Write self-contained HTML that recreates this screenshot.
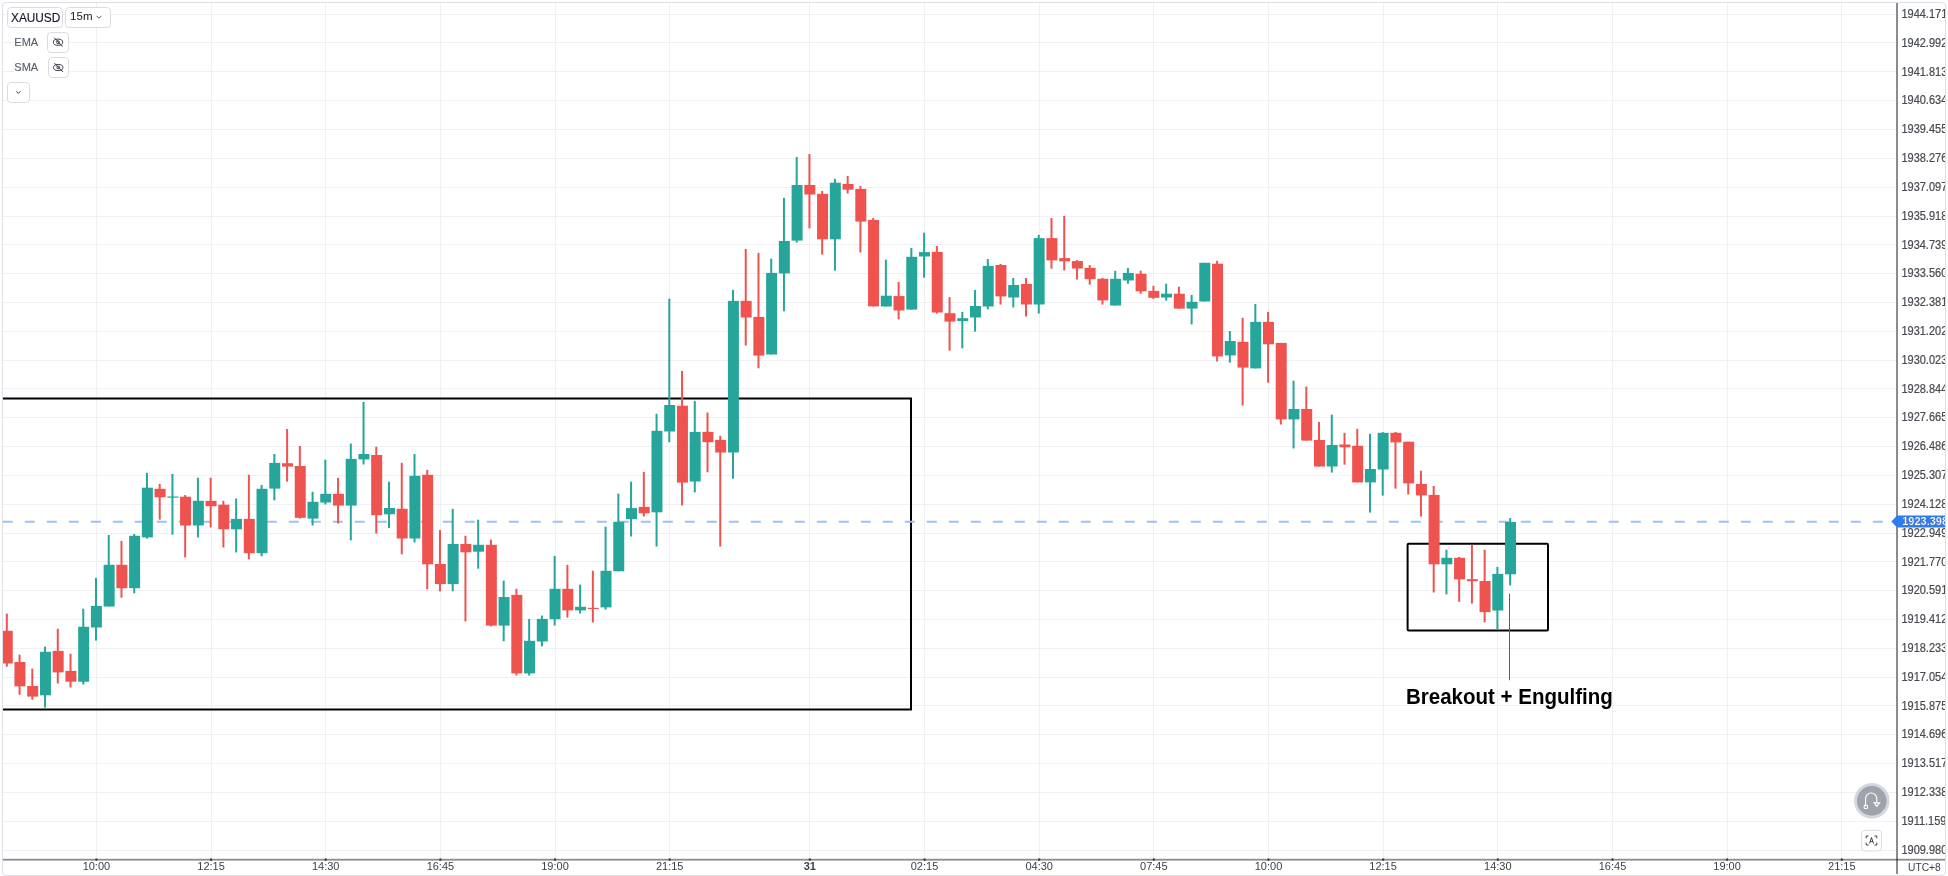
<!DOCTYPE html>
<html><head><meta charset="utf-8"><style>
html,body{margin:0;padding:0;background:#fff;}
body{width:1948px;height:876px;position:relative;overflow:hidden;font-family:"Liberation Sans",sans-serif;}
#root{position:absolute;left:0;top:0;width:1948px;height:876px;will-change:transform;}
.abs{position:absolute;left:0;top:0;}
#frame{position:absolute;left:2px;top:2px;width:1942px;height:872px;border:1px solid #dcdfe6;border-radius:4px;}
#clip{position:absolute;left:3px;top:3px;width:1942px;height:872px;overflow:hidden;border-radius:3px;}
#clip > svg{position:absolute;left:-3px;top:-3px;}
#pclip{position:absolute;left:1898px;top:0;width:47.4px;height:874px;overflow:hidden;}
.pl{position:absolute;left:3.4px;font-size:11px;line-height:17px;color:#474a50;white-space:nowrap;-webkit-text-stroke:0.2px #474a50;transform:scaleY(1.09);transform-origin:0 50%;}
.tl{position:absolute;top:857.8px;width:60px;text-align:center;font-size:11px;line-height:17px;color:#3d3f44;transform:scaleY(1.05);}
.tl.b{font-weight:bold;}
.btn{position:absolute;box-sizing:border-box;border:1px solid #d9dce3;border-radius:4px;background:#fff;}
.ind{position:absolute;font-size:11px;color:#5a5f6d;line-height:13px;-webkit-text-stroke:0.15px #5a5f6d;}
svg.ov{position:absolute;left:0;top:0;}
</style></head><body><div id="root">
<div id="frame"></div>
<div id="clip">
<svg width="1948" height="876">
<rect x="3" y="14" width="1893" height="1" fill="#eef0f4"/>
<rect x="3" y="42" width="1893" height="1" fill="#eef0f4"/>
<rect x="3" y="71" width="1893" height="1" fill="#eef0f4"/>
<rect x="3" y="100" width="1893" height="1" fill="#eef0f4"/>
<rect x="3" y="129" width="1893" height="1" fill="#eef0f4"/>
<rect x="3" y="158" width="1893" height="1" fill="#eef0f4"/>
<rect x="3" y="187" width="1893" height="1" fill="#eef0f4"/>
<rect x="3" y="216" width="1893" height="1" fill="#eef0f4"/>
<rect x="3" y="244" width="1893" height="1" fill="#eef0f4"/>
<rect x="3" y="273" width="1893" height="1" fill="#eef0f4"/>
<rect x="3" y="302" width="1893" height="1" fill="#eef0f4"/>
<rect x="3" y="331" width="1893" height="1" fill="#eef0f4"/>
<rect x="3" y="360" width="1893" height="1" fill="#eef0f4"/>
<rect x="3" y="388" width="1893" height="1" fill="#eef0f4"/>
<rect x="3" y="417" width="1893" height="1" fill="#eef0f4"/>
<rect x="3" y="446" width="1893" height="1" fill="#eef0f4"/>
<rect x="3" y="475" width="1893" height="1" fill="#eef0f4"/>
<rect x="3" y="504" width="1893" height="1" fill="#eef0f4"/>
<rect x="3" y="533" width="1893" height="1" fill="#eef0f4"/>
<rect x="3" y="561" width="1893" height="1" fill="#eef0f4"/>
<rect x="3" y="590" width="1893" height="1" fill="#eef0f4"/>
<rect x="3" y="619" width="1893" height="1" fill="#eef0f4"/>
<rect x="3" y="648" width="1893" height="1" fill="#eef0f4"/>
<rect x="3" y="677" width="1893" height="1" fill="#eef0f4"/>
<rect x="3" y="705" width="1893" height="1" fill="#eef0f4"/>
<rect x="3" y="734" width="1893" height="1" fill="#eef0f4"/>
<rect x="3" y="763" width="1893" height="1" fill="#eef0f4"/>
<rect x="3" y="792" width="1893" height="1" fill="#eef0f4"/>
<rect x="3" y="821" width="1893" height="1" fill="#eef0f4"/>
<rect x="3" y="850" width="1893" height="1" fill="#eef0f4"/>
<rect x="96" y="3" width="1" height="856" fill="#eef0f4"/>
<rect x="211" y="3" width="1" height="856" fill="#eef0f4"/>
<rect x="325" y="3" width="1" height="856" fill="#eef0f4"/>
<rect x="440" y="3" width="1" height="856" fill="#eef0f4"/>
<rect x="555" y="3" width="1" height="856" fill="#eef0f4"/>
<rect x="669" y="3" width="1" height="856" fill="#eef0f4"/>
<rect x="809" y="3" width="1" height="856" fill="#eef0f4"/>
<rect x="924" y="3" width="1" height="856" fill="#eef0f4"/>
<rect x="1039" y="3" width="1" height="856" fill="#eef0f4"/>
<rect x="1153" y="3" width="1" height="856" fill="#eef0f4"/>
<rect x="1268" y="3" width="1" height="856" fill="#eef0f4"/>
<rect x="1383" y="3" width="1" height="856" fill="#eef0f4"/>
<rect x="1497" y="3" width="1" height="856" fill="#eef0f4"/>
<rect x="1612" y="3" width="1" height="856" fill="#eef0f4"/>
<rect x="1727" y="3" width="1" height="856" fill="#eef0f4"/>
<rect x="1841" y="3" width="1" height="856" fill="#eef0f4"/>
<rect x="2" y="398.5" width="909" height="311" fill="none" stroke="#000" stroke-width="2"/>
<rect x="1407.6" y="543.8" width="140.4" height="86.6" rx="1" fill="none" stroke="#000" stroke-width="2"/>
<line x1="2.8" y1="521.7" x2="1896" y2="521.7" stroke="#9ec0f6" stroke-width="2" stroke-dasharray="10 12"/>
<rect x="5.82" y="613.60" width="2.0" height="53.00" fill="#ef5350"/>
<rect x="1.72" y="630.80" width="11.0" height="32.70" fill="#ef5350"/>
<rect x="18.56" y="654.70" width="2.0" height="40.10" fill="#ef5350"/>
<rect x="14.46" y="662.00" width="11.0" height="24.30" fill="#ef5350"/>
<rect x="31.30" y="668.60" width="2.0" height="31.10" fill="#ef5350"/>
<rect x="27.20" y="686.00" width="11.0" height="10.60" fill="#ef5350"/>
<rect x="44.04" y="646.60" width="2.0" height="61.00" fill="#26a69a"/>
<rect x="39.94" y="651.80" width="11.0" height="43.50" fill="#26a69a"/>
<rect x="56.78" y="628.70" width="2.0" height="54.80" fill="#ef5350"/>
<rect x="52.68" y="650.90" width="11.0" height="21.50" fill="#ef5350"/>
<rect x="69.52" y="653.70" width="2.0" height="33.80" fill="#ef5350"/>
<rect x="65.42" y="670.90" width="11.0" height="10.80" fill="#ef5350"/>
<rect x="82.26" y="608.70" width="2.0" height="75.80" fill="#26a69a"/>
<rect x="78.16" y="626.80" width="11.0" height="54.90" fill="#26a69a"/>
<rect x="95.00" y="577.90" width="2.0" height="62.70" fill="#26a69a"/>
<rect x="90.90" y="605.90" width="11.0" height="21.60" fill="#26a69a"/>
<rect x="107.74" y="535.00" width="2.0" height="71.50" fill="#26a69a"/>
<rect x="103.64" y="564.80" width="11.0" height="41.70" fill="#26a69a"/>
<rect x="120.48" y="540.90" width="2.0" height="56.80" fill="#ef5350"/>
<rect x="116.38" y="564.80" width="11.0" height="23.40" fill="#ef5350"/>
<rect x="133.22" y="534.00" width="2.0" height="59.30" fill="#26a69a"/>
<rect x="129.12" y="535.80" width="11.0" height="52.40" fill="#26a69a"/>
<rect x="145.96" y="472.80" width="2.0" height="65.80" fill="#26a69a"/>
<rect x="141.86" y="487.70" width="11.0" height="49.70" fill="#26a69a"/>
<rect x="158.70" y="483.90" width="2.0" height="35.70" fill="#ef5350"/>
<rect x="154.60" y="488.80" width="11.0" height="8.50" fill="#ef5350"/>
<rect x="171.44" y="473.90" width="2.0" height="60.80" fill="#26a69a"/>
<rect x="167.34" y="496.50" width="11.0" height="1.20" fill="#26a69a"/>
<rect x="184.18" y="495.10" width="2.0" height="62.30" fill="#ef5350"/>
<rect x="180.08" y="496.70" width="11.0" height="28.80" fill="#ef5350"/>
<rect x="196.92" y="477.70" width="2.0" height="59.80" fill="#26a69a"/>
<rect x="192.82" y="500.80" width="11.0" height="24.70" fill="#26a69a"/>
<rect x="209.66" y="477.70" width="2.0" height="49.80" fill="#ef5350"/>
<rect x="205.56" y="500.90" width="11.0" height="5.30" fill="#ef5350"/>
<rect x="222.40" y="500.80" width="2.0" height="46.70" fill="#ef5350"/>
<rect x="218.30" y="504.70" width="11.0" height="24.60" fill="#ef5350"/>
<rect x="235.14" y="498.50" width="2.0" height="53.90" fill="#26a69a"/>
<rect x="231.04" y="518.90" width="11.0" height="10.40" fill="#26a69a"/>
<rect x="247.88" y="474.70" width="2.0" height="84.70" fill="#ef5350"/>
<rect x="243.78" y="518.90" width="11.0" height="34.30" fill="#ef5350"/>
<rect x="260.62" y="484.90" width="2.0" height="71.40" fill="#26a69a"/>
<rect x="256.52" y="488.80" width="11.0" height="64.40" fill="#26a69a"/>
<rect x="273.36" y="454.00" width="2.0" height="46.40" fill="#26a69a"/>
<rect x="269.26" y="462.90" width="11.0" height="25.70" fill="#26a69a"/>
<rect x="286.10" y="429.00" width="2.0" height="52.70" fill="#ef5350"/>
<rect x="282.00" y="463.20" width="11.0" height="3.40" fill="#ef5350"/>
<rect x="298.84" y="446.00" width="2.0" height="72.60" fill="#ef5350"/>
<rect x="294.74" y="466.00" width="11.0" height="51.80" fill="#ef5350"/>
<rect x="311.58" y="491.80" width="2.0" height="33.70" fill="#26a69a"/>
<rect x="307.48" y="501.80" width="11.0" height="16.80" fill="#26a69a"/>
<rect x="324.32" y="459.80" width="2.0" height="44.70" fill="#26a69a"/>
<rect x="320.22" y="493.80" width="11.0" height="8.70" fill="#26a69a"/>
<rect x="337.06" y="477.80" width="2.0" height="45.70" fill="#ef5350"/>
<rect x="332.96" y="493.80" width="11.0" height="11.80" fill="#ef5350"/>
<rect x="349.80" y="443.60" width="2.0" height="96.80" fill="#26a69a"/>
<rect x="345.70" y="458.90" width="11.0" height="46.70" fill="#26a69a"/>
<rect x="362.54" y="402.00" width="2.0" height="62.50" fill="#26a69a"/>
<rect x="358.44" y="454.00" width="11.0" height="5.40" fill="#26a69a"/>
<rect x="375.28" y="446.70" width="2.0" height="86.90" fill="#ef5350"/>
<rect x="371.18" y="455.00" width="11.0" height="60.20" fill="#ef5350"/>
<rect x="388.02" y="481.70" width="2.0" height="46.40" fill="#26a69a"/>
<rect x="383.92" y="508.00" width="11.0" height="6.30" fill="#26a69a"/>
<rect x="400.76" y="462.90" width="2.0" height="91.40" fill="#ef5350"/>
<rect x="396.66" y="508.80" width="11.0" height="29.70" fill="#ef5350"/>
<rect x="413.50" y="454.00" width="2.0" height="88.50" fill="#26a69a"/>
<rect x="409.40" y="475.80" width="11.0" height="62.70" fill="#26a69a"/>
<rect x="426.24" y="469.80" width="2.0" height="119.50" fill="#ef5350"/>
<rect x="422.14" y="474.80" width="11.0" height="89.50" fill="#ef5350"/>
<rect x="438.98" y="530.10" width="2.0" height="61.20" fill="#ef5350"/>
<rect x="434.88" y="564.00" width="11.0" height="20.10" fill="#ef5350"/>
<rect x="451.72" y="508.90" width="2.0" height="82.40" fill="#26a69a"/>
<rect x="447.62" y="544.00" width="11.0" height="40.10" fill="#26a69a"/>
<rect x="464.46" y="535.80" width="2.0" height="85.50" fill="#ef5350"/>
<rect x="460.36" y="544.00" width="11.0" height="8.30" fill="#ef5350"/>
<rect x="477.20" y="519.70" width="2.0" height="49.00" fill="#26a69a"/>
<rect x="473.10" y="544.80" width="11.0" height="6.90" fill="#26a69a"/>
<rect x="489.94" y="539.70" width="2.0" height="86.70" fill="#ef5350"/>
<rect x="485.84" y="544.80" width="11.0" height="80.80" fill="#ef5350"/>
<rect x="502.68" y="580.60" width="2.0" height="60.60" fill="#26a69a"/>
<rect x="498.58" y="597.00" width="11.0" height="28.60" fill="#26a69a"/>
<rect x="515.42" y="588.80" width="2.0" height="86.70" fill="#ef5350"/>
<rect x="511.32" y="594.90" width="11.0" height="78.50" fill="#ef5350"/>
<rect x="528.16" y="618.90" width="2.0" height="56.60" fill="#26a69a"/>
<rect x="524.06" y="640.80" width="11.0" height="32.60" fill="#26a69a"/>
<rect x="540.90" y="615.50" width="2.0" height="30.90" fill="#26a69a"/>
<rect x="536.80" y="618.90" width="11.0" height="22.60" fill="#26a69a"/>
<rect x="553.64" y="555.90" width="2.0" height="69.60" fill="#26a69a"/>
<rect x="549.54" y="588.80" width="11.0" height="30.40" fill="#26a69a"/>
<rect x="566.38" y="564.80" width="2.0" height="52.80" fill="#ef5350"/>
<rect x="562.28" y="588.80" width="11.0" height="21.60" fill="#ef5350"/>
<rect x="579.12" y="584.70" width="2.0" height="28.90" fill="#26a69a"/>
<rect x="575.02" y="606.80" width="11.0" height="3.60" fill="#26a69a"/>
<rect x="591.86" y="570.80" width="2.0" height="51.70" fill="#ef5350"/>
<rect x="587.76" y="607.80" width="11.0" height="1.20" fill="#ef5350"/>
<rect x="604.60" y="526.60" width="2.0" height="83.00" fill="#26a69a"/>
<rect x="600.50" y="570.80" width="11.0" height="36.60" fill="#26a69a"/>
<rect x="617.34" y="493.60" width="2.0" height="77.70" fill="#26a69a"/>
<rect x="613.24" y="521.80" width="11.0" height="49.50" fill="#26a69a"/>
<rect x="630.08" y="481.70" width="2.0" height="54.80" fill="#26a69a"/>
<rect x="625.98" y="508.10" width="11.0" height="11.10" fill="#26a69a"/>
<rect x="642.82" y="471.90" width="2.0" height="44.60" fill="#ef5350"/>
<rect x="638.72" y="506.90" width="11.0" height="6.40" fill="#ef5350"/>
<rect x="655.56" y="413.70" width="2.0" height="132.80" fill="#26a69a"/>
<rect x="651.46" y="430.80" width="11.0" height="81.50" fill="#26a69a"/>
<rect x="668.30" y="298.60" width="2.0" height="143.60" fill="#26a69a"/>
<rect x="664.20" y="405.00" width="11.0" height="26.50" fill="#26a69a"/>
<rect x="681.04" y="371.00" width="2.0" height="134.40" fill="#ef5350"/>
<rect x="676.94" y="405.70" width="11.0" height="76.90" fill="#ef5350"/>
<rect x="693.78" y="401.10" width="2.0" height="91.30" fill="#26a69a"/>
<rect x="689.68" y="431.90" width="11.0" height="49.60" fill="#26a69a"/>
<rect x="706.52" y="412.50" width="2.0" height="59.80" fill="#ef5350"/>
<rect x="702.42" y="431.90" width="11.0" height="10.30" fill="#ef5350"/>
<rect x="719.26" y="435.80" width="2.0" height="110.70" fill="#ef5350"/>
<rect x="715.16" y="439.90" width="11.0" height="12.60" fill="#ef5350"/>
<rect x="732.00" y="289.90" width="2.0" height="188.80" fill="#26a69a"/>
<rect x="727.90" y="300.90" width="11.0" height="151.60" fill="#26a69a"/>
<rect x="744.74" y="248.90" width="2.0" height="96.60" fill="#ef5350"/>
<rect x="740.64" y="300.90" width="11.0" height="16.60" fill="#ef5350"/>
<rect x="757.48" y="252.90" width="2.0" height="115.40" fill="#ef5350"/>
<rect x="753.38" y="316.90" width="11.0" height="38.70" fill="#ef5350"/>
<rect x="770.22" y="258.60" width="2.0" height="95.90" fill="#26a69a"/>
<rect x="766.12" y="272.90" width="11.0" height="81.60" fill="#26a69a"/>
<rect x="782.96" y="197.90" width="2.0" height="113.30" fill="#26a69a"/>
<rect x="778.86" y="241.00" width="11.0" height="32.40" fill="#26a69a"/>
<rect x="795.70" y="157.00" width="2.0" height="85.60" fill="#26a69a"/>
<rect x="791.60" y="185.00" width="11.0" height="55.60" fill="#26a69a"/>
<rect x="808.44" y="154.00" width="2.0" height="74.40" fill="#ef5350"/>
<rect x="804.34" y="185.00" width="11.0" height="9.50" fill="#ef5350"/>
<rect x="821.18" y="191.00" width="2.0" height="63.60" fill="#ef5350"/>
<rect x="817.08" y="193.80" width="11.0" height="45.50" fill="#ef5350"/>
<rect x="833.92" y="178.80" width="2.0" height="91.90" fill="#26a69a"/>
<rect x="829.82" y="182.70" width="11.0" height="56.60" fill="#26a69a"/>
<rect x="846.66" y="176.00" width="2.0" height="17.50" fill="#ef5350"/>
<rect x="842.56" y="183.90" width="11.0" height="5.80" fill="#ef5350"/>
<rect x="859.40" y="186.00" width="2.0" height="66.50" fill="#ef5350"/>
<rect x="855.30" y="188.90" width="11.0" height="32.70" fill="#ef5350"/>
<rect x="872.14" y="218.10" width="2.0" height="88.30" fill="#ef5350"/>
<rect x="868.04" y="219.90" width="11.0" height="86.50" fill="#ef5350"/>
<rect x="884.88" y="259.70" width="2.0" height="46.80" fill="#26a69a"/>
<rect x="880.78" y="295.70" width="11.0" height="10.80" fill="#26a69a"/>
<rect x="897.62" y="282.00" width="2.0" height="37.40" fill="#ef5350"/>
<rect x="893.52" y="296.10" width="11.0" height="14.40" fill="#ef5350"/>
<rect x="910.36" y="247.90" width="2.0" height="61.70" fill="#26a69a"/>
<rect x="906.26" y="256.80" width="11.0" height="52.80" fill="#26a69a"/>
<rect x="923.10" y="232.70" width="2.0" height="45.00" fill="#26a69a"/>
<rect x="919.00" y="252.10" width="11.0" height="4.40" fill="#26a69a"/>
<rect x="935.84" y="246.00" width="2.0" height="67.60" fill="#ef5350"/>
<rect x="931.74" y="251.90" width="11.0" height="60.60" fill="#ef5350"/>
<rect x="948.58" y="297.10" width="2.0" height="53.50" fill="#ef5350"/>
<rect x="944.48" y="313.20" width="11.0" height="8.40" fill="#ef5350"/>
<rect x="961.32" y="311.90" width="2.0" height="36.50" fill="#26a69a"/>
<rect x="957.22" y="318.20" width="11.0" height="2.90" fill="#26a69a"/>
<rect x="974.06" y="289.90" width="2.0" height="41.70" fill="#26a69a"/>
<rect x="969.96" y="306.00" width="11.0" height="11.50" fill="#26a69a"/>
<rect x="986.80" y="259.00" width="2.0" height="50.30" fill="#26a69a"/>
<rect x="982.70" y="265.90" width="11.0" height="40.60" fill="#26a69a"/>
<rect x="999.54" y="264.00" width="2.0" height="40.60" fill="#ef5350"/>
<rect x="995.44" y="265.00" width="11.0" height="31.40" fill="#ef5350"/>
<rect x="1012.28" y="278.00" width="2.0" height="29.50" fill="#26a69a"/>
<rect x="1008.18" y="285.00" width="11.0" height="12.50" fill="#26a69a"/>
<rect x="1025.02" y="278.00" width="2.0" height="38.50" fill="#ef5350"/>
<rect x="1020.92" y="284.00" width="11.0" height="20.50" fill="#ef5350"/>
<rect x="1037.76" y="234.80" width="2.0" height="78.80" fill="#26a69a"/>
<rect x="1033.66" y="238.10" width="11.0" height="66.40" fill="#26a69a"/>
<rect x="1050.50" y="218.00" width="2.0" height="50.70" fill="#ef5350"/>
<rect x="1046.40" y="238.10" width="11.0" height="22.30" fill="#ef5350"/>
<rect x="1063.24" y="215.80" width="2.0" height="54.70" fill="#ef5350"/>
<rect x="1059.14" y="258.10" width="11.0" height="3.20" fill="#ef5350"/>
<rect x="1075.98" y="260.10" width="2.0" height="19.40" fill="#ef5350"/>
<rect x="1071.88" y="261.10" width="11.0" height="7.40" fill="#ef5350"/>
<rect x="1088.72" y="265.00" width="2.0" height="19.70" fill="#ef5350"/>
<rect x="1084.62" y="267.90" width="11.0" height="11.30" fill="#ef5350"/>
<rect x="1101.46" y="277.90" width="2.0" height="26.70" fill="#ef5350"/>
<rect x="1097.36" y="278.80" width="11.0" height="21.60" fill="#ef5350"/>
<rect x="1114.20" y="270.80" width="2.0" height="34.70" fill="#26a69a"/>
<rect x="1110.10" y="278.80" width="11.0" height="26.70" fill="#26a69a"/>
<rect x="1126.94" y="267.90" width="2.0" height="15.80" fill="#26a69a"/>
<rect x="1122.84" y="272.90" width="11.0" height="7.60" fill="#26a69a"/>
<rect x="1139.68" y="270.70" width="2.0" height="23.00" fill="#ef5350"/>
<rect x="1135.58" y="273.80" width="11.0" height="17.50" fill="#ef5350"/>
<rect x="1152.42" y="285.80" width="2.0" height="13.10" fill="#ef5350"/>
<rect x="1148.32" y="290.90" width="11.0" height="6.90" fill="#ef5350"/>
<rect x="1165.16" y="283.70" width="2.0" height="16.90" fill="#26a69a"/>
<rect x="1161.06" y="293.70" width="11.0" height="3.80" fill="#26a69a"/>
<rect x="1177.90" y="286.70" width="2.0" height="21.90" fill="#ef5350"/>
<rect x="1173.80" y="293.70" width="11.0" height="14.90" fill="#ef5350"/>
<rect x="1190.64" y="294.90" width="2.0" height="29.50" fill="#26a69a"/>
<rect x="1186.54" y="301.80" width="11.0" height="6.80" fill="#26a69a"/>
<rect x="1203.38" y="262.80" width="2.0" height="38.70" fill="#26a69a"/>
<rect x="1199.28" y="262.80" width="11.0" height="38.70" fill="#26a69a"/>
<rect x="1216.12" y="260.80" width="2.0" height="100.70" fill="#ef5350"/>
<rect x="1212.02" y="263.70" width="11.0" height="92.70" fill="#ef5350"/>
<rect x="1228.86" y="331.00" width="2.0" height="31.60" fill="#26a69a"/>
<rect x="1224.76" y="341.00" width="11.0" height="14.40" fill="#26a69a"/>
<rect x="1241.60" y="317.80" width="2.0" height="87.70" fill="#ef5350"/>
<rect x="1237.50" y="341.80" width="11.0" height="25.80" fill="#ef5350"/>
<rect x="1254.34" y="304.00" width="2.0" height="64.40" fill="#26a69a"/>
<rect x="1250.24" y="321.90" width="11.0" height="46.50" fill="#26a69a"/>
<rect x="1267.08" y="311.90" width="2.0" height="70.80" fill="#ef5350"/>
<rect x="1262.98" y="321.90" width="11.0" height="22.40" fill="#ef5350"/>
<rect x="1279.82" y="342.90" width="2.0" height="81.60" fill="#ef5350"/>
<rect x="1275.72" y="342.90" width="11.0" height="76.50" fill="#ef5350"/>
<rect x="1292.56" y="380.60" width="2.0" height="67.90" fill="#26a69a"/>
<rect x="1288.46" y="409.00" width="11.0" height="10.40" fill="#26a69a"/>
<rect x="1305.30" y="386.60" width="2.0" height="54.00" fill="#ef5350"/>
<rect x="1301.20" y="409.00" width="11.0" height="31.60" fill="#ef5350"/>
<rect x="1318.04" y="421.90" width="2.0" height="44.60" fill="#ef5350"/>
<rect x="1313.94" y="440.00" width="11.0" height="26.50" fill="#ef5350"/>
<rect x="1330.78" y="414.60" width="2.0" height="58.00" fill="#26a69a"/>
<rect x="1326.68" y="445.00" width="11.0" height="21.50" fill="#26a69a"/>
<rect x="1343.52" y="432.80" width="2.0" height="31.90" fill="#ef5350"/>
<rect x="1339.42" y="444.50" width="11.0" height="2.80" fill="#ef5350"/>
<rect x="1356.26" y="428.80" width="2.0" height="53.60" fill="#ef5350"/>
<rect x="1352.16" y="445.80" width="11.0" height="36.60" fill="#ef5350"/>
<rect x="1369.00" y="433.80" width="2.0" height="78.80" fill="#26a69a"/>
<rect x="1364.90" y="469.00" width="11.0" height="13.40" fill="#26a69a"/>
<rect x="1381.74" y="432.10" width="2.0" height="63.50" fill="#26a69a"/>
<rect x="1377.64" y="432.80" width="11.0" height="36.70" fill="#26a69a"/>
<rect x="1394.48" y="432.00" width="2.0" height="56.70" fill="#ef5350"/>
<rect x="1390.38" y="432.80" width="11.0" height="9.60" fill="#ef5350"/>
<rect x="1407.22" y="441.70" width="2.0" height="52.80" fill="#ef5350"/>
<rect x="1403.12" y="441.70" width="11.0" height="41.70" fill="#ef5350"/>
<rect x="1419.96" y="470.80" width="2.0" height="45.70" fill="#ef5350"/>
<rect x="1415.86" y="483.90" width="11.0" height="11.50" fill="#ef5350"/>
<rect x="1432.70" y="485.90" width="2.0" height="106.60" fill="#ef5350"/>
<rect x="1428.60" y="494.90" width="11.0" height="69.40" fill="#ef5350"/>
<rect x="1445.44" y="549.70" width="2.0" height="44.70" fill="#26a69a"/>
<rect x="1441.34" y="557.80" width="11.0" height="6.50" fill="#26a69a"/>
<rect x="1458.18" y="556.90" width="2.0" height="44.90" fill="#ef5350"/>
<rect x="1454.08" y="557.80" width="11.0" height="21.60" fill="#ef5350"/>
<rect x="1470.92" y="544.80" width="2.0" height="58.80" fill="#ef5350"/>
<rect x="1466.82" y="579.20" width="11.0" height="2.00" fill="#ef5350"/>
<rect x="1483.66" y="549.70" width="2.0" height="72.70" fill="#ef5350"/>
<rect x="1479.56" y="581.00" width="11.0" height="31.10" fill="#ef5350"/>
<rect x="1496.40" y="566.90" width="2.0" height="62.90" fill="#26a69a"/>
<rect x="1492.30" y="573.90" width="11.0" height="36.60" fill="#26a69a"/>
<rect x="1509.14" y="518.10" width="2.0" height="67.30" fill="#26a69a"/>
<rect x="1505.04" y="522.00" width="11.0" height="52.30" fill="#26a69a"/>
<rect x="1509" y="593.6" width="1" height="86.6" fill="#5d5d5d"/>
<rect x="1896" y="3" width="2" height="871" fill="#000" fill-opacity="0.45"/>
<rect x="3" y="858.8" width="1943" height="1.8" fill="#000" fill-opacity="0.45"/>
<rect x="95.40" y="858.5" width="2" height="2.2" fill="#333"/>
<rect x="210.06" y="858.5" width="2" height="2.2" fill="#333"/>
<rect x="324.72" y="858.5" width="2" height="2.2" fill="#333"/>
<rect x="439.38" y="858.5" width="2" height="2.2" fill="#333"/>
<rect x="554.04" y="858.5" width="2" height="2.2" fill="#333"/>
<rect x="668.70" y="858.5" width="2" height="2.2" fill="#333"/>
<rect x="808.84" y="858.5" width="2" height="2.2" fill="#333"/>
<rect x="923.50" y="858.5" width="2" height="2.2" fill="#333"/>
<rect x="1038.16" y="858.5" width="2" height="2.2" fill="#333"/>
<rect x="1152.82" y="858.5" width="2" height="2.2" fill="#333"/>
<rect x="1267.48" y="858.5" width="2" height="2.2" fill="#333"/>
<rect x="1382.14" y="858.5" width="2" height="2.2" fill="#333"/>
<rect x="1496.80" y="858.5" width="2" height="2.2" fill="#333"/>
<rect x="1611.46" y="858.5" width="2" height="2.2" fill="#333"/>
<rect x="1726.12" y="858.5" width="2" height="2.2" fill="#333"/>
<rect x="1840.78" y="858.5" width="2" height="2.2" fill="#333"/>
<path d="M1891.4 521.6 L1897 515.4 L1946 515.4 L1946 527.4 L1897 527.4 Z" fill="#2e7cf0"/>
</svg>
</div>
<div class="tl" style="left:66.4px">10:00</div><div class="tl" style="left:181.1px">12:15</div><div class="tl" style="left:295.7px">14:30</div><div class="tl" style="left:410.4px">16:45</div><div class="tl" style="left:525.0px">19:00</div><div class="tl" style="left:639.7px">21:15</div><div class="tl b" style="left:779.8px">31</div><div class="tl" style="left:894.5px">02:15</div><div class="tl" style="left:1009.2px">04:30</div><div class="tl" style="left:1123.8px">07:45</div><div class="tl" style="left:1238.5px">10:00</div><div class="tl" style="left:1353.1px">12:15</div><div class="tl" style="left:1467.8px">14:30</div><div class="tl" style="left:1582.5px">16:45</div><div class="tl" style="left:1697.1px">19:00</div><div class="tl" style="left:1811.8px">21:15</div>
<div style="position:absolute;top:859.3px;left:1907.9px;font-size:11.4px;line-height:17px;color:#3d3f44;transform:scaleX(0.9);transform-origin:0 0">UTC+8</div>
<div id="pclip"><div class="pl" style="top:5.9px">1944.171</div><div class="pl" style="top:34.7px">1942.992</div><div class="pl" style="top:63.5px">1941.813</div><div class="pl" style="top:92.4px">1940.634</div><div class="pl" style="top:121.2px">1939.455</div><div class="pl" style="top:150.0px">1938.276</div><div class="pl" style="top:178.8px">1937.097</div><div class="pl" style="top:207.6px">1935.918</div><div class="pl" style="top:236.5px">1934.739</div><div class="pl" style="top:265.3px">1933.560</div><div class="pl" style="top:294.1px">1932.381</div><div class="pl" style="top:322.9px">1931.202</div><div class="pl" style="top:351.7px">1930.023</div><div class="pl" style="top:380.6px">1928.844</div><div class="pl" style="top:409.4px">1927.665</div><div class="pl" style="top:438.2px">1926.486</div><div class="pl" style="top:467.0px">1925.307</div><div class="pl" style="top:495.8px">1924.128</div><div class="pl" style="top:524.7px">1922.949</div><div class="pl" style="top:553.5px">1921.770</div><div class="pl" style="top:582.3px">1920.591</div><div class="pl" style="top:611.1px">1919.412</div><div class="pl" style="top:639.9px">1918.233</div><div class="pl" style="top:668.8px">1917.054</div><div class="pl" style="top:697.6px">1915.875</div><div class="pl" style="top:726.4px">1914.696</div><div class="pl" style="top:755.2px">1913.517</div><div class="pl" style="top:784.0px">1912.338</div><div class="pl" style="top:812.9px">1911.159</div><div class="pl" style="top:841.7px">1909.980</div><div class="pl" style="top:513.2px;color:#fff;font-weight:bold;transform:scaleY(0.93);left:4.2px">1923.398</div></div>

<div class="btn" style="left:6.9px;top:6.6px;width:56.1px;height:21.1px"></div>
<div style="position:absolute;left:11px;top:8.6px;font-size:13.6px;line-height:17px;color:#131722;-webkit-text-stroke:0.15px #131722;transform:scaleX(0.87);transform-origin:0 0">XAUUSD</div>
<div class="btn" style="left:65.3px;top:6.6px;width:45.4px;height:21.1px"></div>
<div style="position:absolute;left:70.1px;top:9.3px;font-size:11.5px;line-height:15px;color:#131722">15m</div>
<div style="position:absolute;left:13.5px;top:33px;width:33px;height:19px;background:#fff"></div><div class="ind" style="left:14.3px;top:36.4px;font-size:11px">EMA</div>
<div class="btn" style="left:47.2px;top:31.5px;width:21.5px;height:21.2px"></div>
<div style="position:absolute;left:13.5px;top:58.5px;width:33px;height:19px;background:#fff"></div><div class="ind" style="left:14.3px;top:61px;font-size:11px">SMA</div>
<div class="btn" style="left:47.5px;top:57px;width:21.5px;height:21px"></div>
<div class="btn" style="left:6.8px;top:82.3px;width:23px;height:21px"></div>
<svg class="ov" width="1948" height="876">
<path d="M96.5 15.8 L99 18.3 L101.5 15.8" fill="none" stroke="#555" stroke-width="1"/>
<g fill="none" stroke="#2a2e39" stroke-width="0.9">
<ellipse cx="58" cy="42.2" rx="4.7" ry="3.1"/>
<circle cx="58" cy="42.2" r="1.4"/>
<line x1="54" y1="37.6" x2="62.8" y2="46.7"/>
<ellipse cx="58.2" cy="67.5" rx="4.7" ry="3.1"/>
<circle cx="58.2" cy="67.5" r="1.4"/>
<line x1="54.2" y1="62.9" x2="63" y2="72"/>
<path d="M16.2 91.3 L18.3 93.4 L20.4 91.3"/>
</g>
<circle cx="1871.8" cy="800.9" r="17.8" fill="#d3d7df"/>
<circle cx="1871.8" cy="800.9" r="14.8" fill="#9fa3ab"/>
<g fill="none" stroke="#fff" stroke-width="1.1">
<path d="M1865.6 805 L1865.6 798.6 A5.6 5.6 0 0 1 1876.8 798.6 L1876.8 802.5"/>
<path d="M1874 802.9 L1879.6 802.9 L1876.8 806.4 Z"/>
<rect x="1864.2" y="805.4" width="3.2" height="3.1" rx="0.8"/>
</g>
<rect x="1861.5" y="830.3" width="20" height="20.6" rx="3.5" fill="#fff" stroke="#d9dce3" stroke-width="1"/>
<g fill="none" stroke="#2a2e39" stroke-width="0.9">
<path d="M1866.2 838.4 V836 H1868.6 M1874.4 836 H1876.8 V838.4 M1876.8 842.6 V845 H1874.4 M1868.6 845 H1866.2 V842.6"/>
<path d="M1869.5 843.5 L1871.5 837.5 L1873.5 843.5 M1870.2 841.6 H1872.8"/>
</g>
</svg>
<div style="position:absolute;left:1406px;top:684px;font-size:21.6px;font-weight:bold;line-height:26px;color:#000;white-space:nowrap;transform:scaleX(0.95);transform-origin:0 0">Breakout + Engulfing</div>
</div></body></html>
